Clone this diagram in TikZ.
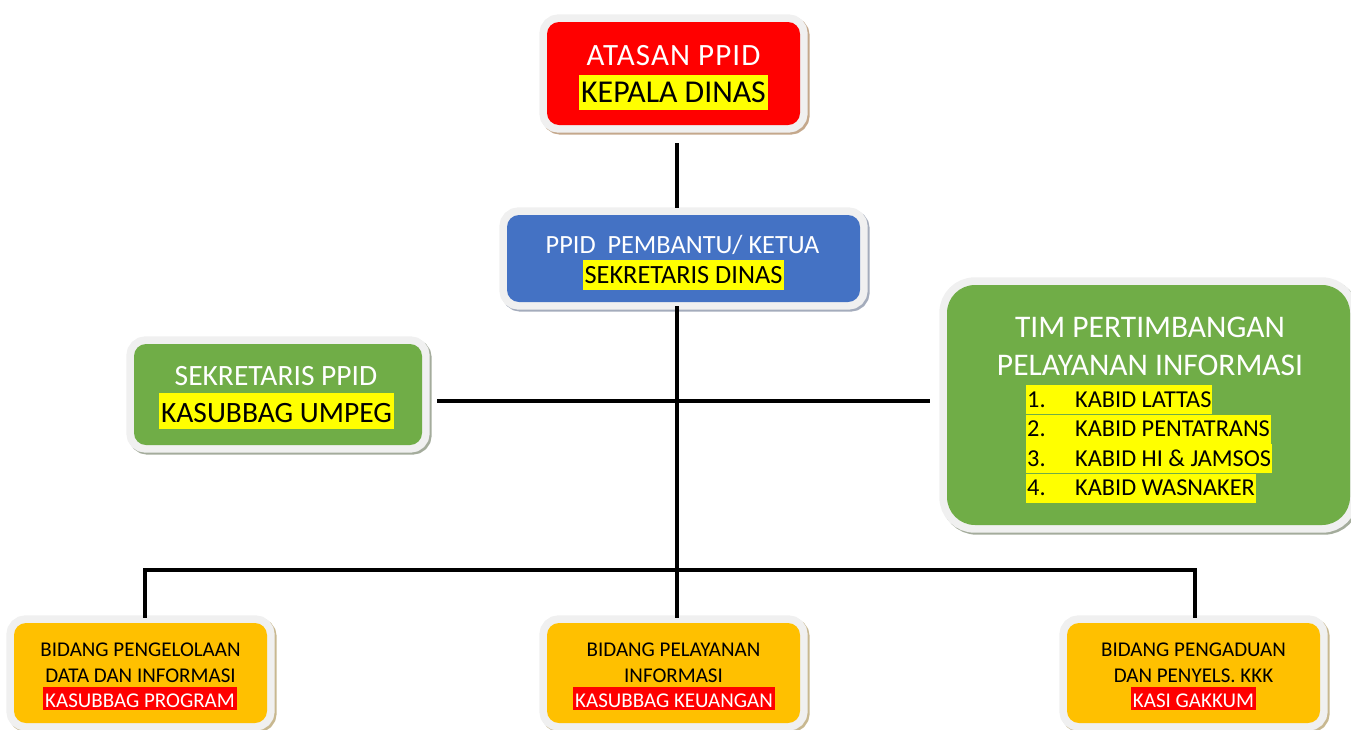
\documentclass[tikz,border=0pt]{standalone}
\usepackage{fontspec}
\setmainfont{Carlito}
\usetikzlibrary{backgrounds}
\definecolor{cred}{HTML}{FF0000}
\definecolor{cblue}{HTML}{4472C4}
\definecolor{cgreen}{HTML}{70AD47}
\definecolor{corange}{HTML}{FFC000}
\definecolor{cyellow}{HTML}{FFFF00}
\definecolor{framegray}{HTML}{F0F0F0}
\definecolor{shred}{HTML}{C4A88C}
\definecolor{shblue}{HTML}{A4ACBC}
\definecolor{shgreen}{HTML}{A4AC9C}
\definecolor{shorange}{HTML}{C8B890}
\newcommand{\mkframe}[3]{%
  \begin{scope}[on background layer]
    \draw[#2, line width=15pt, rounded corners=#3] ([shift={(2pt,-2pt)}]#1.south west) rectangle ([shift={(2pt,-2pt)}]#1.north east);
    \draw[framegray, line width=15pt, rounded corners=#3] (#1.south west) rectangle (#1.north east);
  \end{scope}}
\tikzset{
  box/.style={inner sep=0pt, draw=none, rounded corners=12pt},
  wtxt/.style={text=white, anchor=base, inner sep=0pt},
  btxt/.style={text=black, anchor=base, inner sep=0pt},
  hly/.style={fill=cyellow, text=black, anchor=base, inner xsep=2pt, inner ysep=0pt},
  hlr/.style={fill=cred, text=white, anchor=base, inner xsep=2pt, inner ysep=0pt, text height=20pt, text depth=3pt},
  conn/.style={line width=4pt, black},
  ftopa/.style={font=\fontsize{31pt}{37pt}\selectfont\addfontfeature{LetterSpace=3.5}},
  ftopb/.style={font=\fontsize{31.8pt}{38pt}\selectfont},
  fblue/.style={font=\fontsize{26.3pt}{31pt}\selectfont},
  fsek/.style={font=\fontsize{29.5pt}{35pt}\selectfont},
  ftim/.style={font=\fontsize{31.5pt}{38pt}\selectfont},
  flist/.style={font=\fontsize{24.3pt}{29pt}\selectfont},
  fbot/.style={font=\fontsize{21pt}{25pt}\selectfont},
}
\begin{document}
\begin{tikzpicture}[x=1pt,y=-1pt]
\useasboundingbox (0,0) rectangle (1351,729);
\clip (0,0) rectangle (1351,729);
% ATASAN
\node[box, fill=cred, minimum width=253pt, minimum height=103pt] (atasan) at (673.5,73.5) {};
\mkframe{atasan}{shred}{12pt}
\node[wtxt, ftopa] (atasan1) at (673.5,65) {ATASAN PPID};
\node[hly, ftopb, text height=27pt, text depth=8pt] (atasan2) at (673.5,102) {KEPALA DINAS};
% PPID PEMBANTU
\node[box, fill=cblue, minimum width=353pt, minimum height=87pt] (ppid) at (683.5,258.5) {};
\mkframe{ppid}{shblue}{12pt}
\node[wtxt, fblue] (ppid1) at (682.5,253) {PPID\ \ PEMBANTU/ KETUA};
\node[hly, fblue, text height=23pt, text depth=7pt] (ppid2) at (683.5,283) {SEKRETARIS DINAS};
% SEKRETARIS PPID
\node[box, fill=cgreen, minimum width=288pt, minimum height=101pt] (sek) at (278,394.5) {};
\mkframe{sek}{shgreen}{12pt}
\node[wtxt, fsek] (sek1) at (276,385) {SEKRETARIS PPID};
\node[hly, fsek, text height=29pt, text depth=7pt] (sek2) at (276.5,422) {KASUBBAG UMPEG};
% TIM
\node[box, fill=cgreen, minimum width=403pt, minimum height=240pt, rounded corners=28pt] (tim) at (1148.5,405) {};
\mkframe{tim}{shgreen}{28pt}
\node[wtxt, ftim] (tim1) at (1150,337) {TIM PERTIMBANGAN};
\node[wtxt, ftim] (tim2) at (1150,375) {PELAYANAN INFORMASI};
\node[hly, flist, anchor=base west, inner xsep=1pt, text height=22pt, text depth=7pt] (li1) at (1026,407) {\makebox[48pt][l]{1.}KABID LATTAS};
\node[hly, flist, anchor=base west, inner xsep=1pt, text height=22pt, text depth=7pt] (li2) at (1026,436.5) {\makebox[48pt][l]{2.}KABID PENTATRANS};
\node[hly, flist, anchor=base west, inner xsep=1pt, text height=22pt, text depth=7pt] (li3) at (1026,466) {\makebox[48pt][l]{3.}KABID HI \& JAMSOS};
\node[hly, flist, anchor=base west, inner xsep=1pt, text height=22pt, text depth=7pt] (li4) at (1026,495.5) {\makebox[48pt][l]{4.}KABID WASNAKER};
% Bottom boxes
\node[box, fill=corange, minimum width=253pt, minimum height=100pt] (bl) at (140.5,673) {};
\mkframe{bl}{shorange}{12pt}
\node[btxt, fbot] (bl1) at (140.5,656) {BIDANG PENGELOLAAN};
\node[btxt, fbot] (bl2) at (140.5,682) {DATA DAN INFORMASI};
\node[hlr, fbot] (bl3) at (140,707) {KASUBBAG PROGRAM};
\node[box, fill=corange, minimum width=253pt, minimum height=100pt] (bm) at (673.5,673) {};
\mkframe{bm}{shorange}{12pt}
\node[btxt, fbot] (bm1) at (673.5,656) {BIDANG PELAYANAN};
\node[btxt, fbot] (bm2) at (673.5,682) {INFORMASI};
\node[hlr, fbot] (bm3) at (674,707) {KASUBBAG KEUANGAN};
\node[box, fill=corange, minimum width=253pt, minimum height=100pt] (br) at (1193.5,673) {};
\mkframe{br}{shorange}{12pt}
\node[btxt, fbot] (br1) at (1193.5,656) {BIDANG PENGADUAN};
\node[btxt, fbot] (br2) at (1193.5,682) {DAN PENYELS. KKK};
\node[hlr, fbot] (br3) at (1193.5,707) {KASI GAKKUM};
% connectors
\coordinate (c1) at (677,143);
\coordinate (c2) at (677,208);
\coordinate (c3) at (677,306);
\coordinate (c4) at (677,618);
\coordinate (h1) at (437,401);
\coordinate (h2) at (930,401);
\coordinate (b1) at (143,570);
\coordinate (b2) at (1197,570);
\coordinate (v1) at (145,570);
\coordinate (v1e) at (145,618);
\coordinate (v2) at (1195,570);
\coordinate (v2e) at (1195,618);
\draw[conn] (c1) -- (c2);
\draw[conn] (c3) -- (c4);
\draw[conn] (h1) -- (h2);
\draw[conn] (b1) -- (b2);
\draw[conn] (v1) -- (v1e);
\draw[conn] (v2) -- (v2e);
\end{tikzpicture}
\end{document}
